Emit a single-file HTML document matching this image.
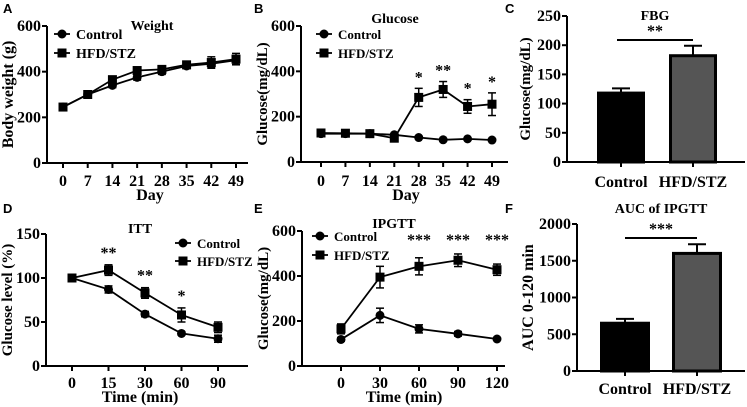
<!DOCTYPE html>
<html><head><meta charset="utf-8"><style>
body{margin:0;background:#fff}
svg{display:block;font-family:"Liberation Serif",serif;font-weight:bold}
.pl{font-family:"Liberation Sans",sans-serif;font-weight:bold;font-size:13px}
</style></head><body>
<svg id="s" width="747" height="407" viewBox="0 0 747 407"></svg>
<script>
// Panel A data
const aDays=["0","7","14","21","28","35","42","49"];
const aCtrl=[245,300,340,375,400,425,435,450];
const aCtrlErr=[8,8,10,12,12,12,15,18];
const aHfd=[245,300,365,405,410,430,440,455];
const aHfdErr=[8,8,12,12,12,15,25,25];
const aTicks=[0,200,400,600];
// Panel B data
const bDays=["0","7","14","21","28","35","42","49"];
const bCtrl=[125,125,125,120,108,98,102,97];
const bCtrlErr=[5,5,5,5,5,5,5,5];
const bHfd=[128,127,125,105,285,320,245,255];
const bHfdErr=[8,8,8,10,40,35,30,50];
const bStars=["","","","","*","**","*","*"];
const bTicks=[0,200,400,600];
// Panel C data
const cCats=["Control","HFD/STZ"];
const cVals=[118,182];
const cErr=[8,17];
const cTicks=[0,50,100,150,200,250];
// Panel D data
const dCats=["0","15","30","60","90"];
const dCtrl=[100,87,59,37,31];
const dCtrlErr=[2,4,3,2,4];
const dHfd=[100,109,83,58,44];
const dHfdErr=[2,6,6,8,6];
const dStars=["","**","**","*",""];
const dTicks=[0,50,100,150];
// Panel E data
const eCats=["0","30","60","90","120"];
const eCtrl=[118,225,165,143,120];
const eCtrlErr=[8,32,18,10,6];
const eHfd=[165,395,443,470,428];
const eHfdErr=[22,48,38,28,25];
const eStars=["","","***","***","***"];
const eTicks=[0,200,400,600];
// Panel F data
const fCats=["Control","HFD/STZ"];
const fVals=[650,1600];
const fErr=[60,125];
const fTicks=[0,500,1000,1500,2000];

const S=document.getElementById('s');const NS="http://www.w3.org/2000/svg";
function mk(t,a,name,txt){const e=document.createElementNS(NS,t);for(const k in a)e.setAttribute(k,a[k]);


if(txt!==undefined)e.textContent=txt;S.appendChild(e);return e;}
function ln(x1,y1,x2,y2,n,w){return mk('line',{x1,y1,x2,y2,stroke:'#000','stroke-width':w||2},n);}
function tx(x,y,t,n,sz,anc,extra){const a={x,y,'font-size':sz||14,'text-anchor':anc||'middle'};Object.assign(a,extra||{});return mk('text',a,n,t);}

function yAxis(ax,y0,y1,max,ticks,xEnd,title,tsz,off){
 const Y=v=>y0-(v/max)*(y0-y1);
 ln(ax,Y(0)+1,ax,Y(max),'y-axis');ln(ax-1,Y(0),xEnd,Y(0),'x-axis');
 ticks.forEach(t=>{ln(ax-5,Y(t),ax,Y(t),'y-tick');tx(ax-6,Y(t)+5,String(t),'y-tick-label',16,'end');});
 const cy=(y0+y1)/2;const tx0=ax-(off||34);tx(tx0,cy,title,'y-axis-title',tsz||15,'middle',{transform:`rotate(-90 ${tx0} ${cy})`});
 return Y;}
function marker(x,y,sq,n){if(sq)mk('rect',{x:x-4.5,y:y-4.5,width:9,height:9,fill:'#000'},n);else mk('circle',{cx:x,cy:y,r:4.5,fill:'#000'},n);}
function series(X,Y,vals,errs,sq,n){
 let d='';vals.forEach((v,i)=>{d+=(i?'L':'M')+X(i)+' '+Y(v);});
 mk('path',{d,fill:'none',stroke:'#000','stroke-width':1.8},n+'-line');
 vals.forEach((v,i)=>{const e=errs[i];ln(X(i),Y(v+e),X(i),Y(v-e),n+'-error',1.5);ln(X(i)-4,Y(v+e),X(i)+4,Y(v+e),n+'-error-cap',1.5);ln(X(i)-4,Y(v-e),X(i)+4,Y(v-e),n+'-error-cap',1.5);marker(X(i),Y(v),sq,n+'-point');});}
function legend(x,y,gap,sz){[['Control',0],['HFD/STZ',1]].forEach(([t,sq],i)=>{const yy=y+i*gap;ln(x-8,yy,x+8,yy,'legend-line',1.8);marker(x,yy,sq,'legend-marker');tx(x+14,yy+5,t,'legend-entry',sz||14,'start');});}
function xticks(X,cats,y0,ly){cats.forEach((c,i)=>{ln(X(i),y0,X(i),y0+5,'x-tick');tx(X(i),ly,c,'x-tick-label',16);});}

// A
tx(3,13,'A','panel-label-a',13,'start',{class:'pl'});
{const Y=yAxis(47,163,26,600,aTicks,248,'Body weight (g)',16,34);const X=i=>63+i*(236-63)/(aDays.length-1);
xticks(X,aDays,163,186);tx(150,200,'Day','x-axis-title',16);tx(152,30,'Weight','chart-title',14);
series(X,Y,aCtrl,aCtrlErr,0,'control');series(X,Y,aHfd,aHfdErr,1,'hfd');legend(62,34,19,14);}
// B
tx(254,13,'B','panel-label-b',13,'start',{class:'pl'});
{const Y=yAxis(301,162,26,600,bTicks,508,'Glucose(mg/dL)',15,34);const X=i=>321+i*(492-321)/(bDays.length-1);
xticks(X,bDays,162,186);tx(406,200,'Day','x-axis-title',16);tx(395,23,'Glucose','chart-title',14);
series(X,Y,bCtrl,bCtrlErr,0,'control');series(X,Y,bHfd,bHfdErr,1,'hfd');legend(324,34,19,13);
bStars.forEach((s,i)=>{if(s)tx(X(i),Y(bHfd[i]+bHfdErr[i])-6,s,'significance-star',16);});}
// C
tx(505,13,'C','panel-label-c',13,'start',{class:'pl'});
{const Y=yAxis(567,162,16,250,cTicks,745,'Glucose(mg/dL)',15,37);const xs=[621,693];
cCats.forEach((c,i)=>{const top=Y(cVals[i]+cErr[i]);ln(xs[i],top,xs[i],Y(cVals[i]),'error-bar',2);ln(xs[i]-9,top,xs[i]+9,top,'error-cap',2);
mk('rect',{x:xs[i]-22.5,y:Y(cVals[i]),width:45,height:Y(0)-Y(cVals[i]),fill:i?'#555':'#000',stroke:'#000','stroke-width':3},'bar-'+(i?'hfd':'control'));
ln(xs[i],Y(0),xs[i],Y(0)+5,'x-tick');tx(xs[i],187,c,'x-tick-label',16);});
tx(655,20,'FBG','chart-title',14);tx(655,36,'**','significance-star',16);ln(617,40,693,40,'significance-line',2);}
// D
tx(3,213,'D','panel-label-d',13,'start',{class:'pl'});
{const Y=yAxis(46,366,234,150,dTicks,248,'Glucose level (%)',15,34);const X=i=>72+i*36.5;
xticks(X,dCats,366,388);tx(140,402,'Time (min)','x-axis-title',16);tx(140,233,'ITT','chart-title',14);
series(X,Y,dCtrl,dCtrlErr,0,'control');series(X,Y,dHfd,dHfdErr,1,'hfd');legend(183,243,18,13);
dStars.forEach((s,i)=>{if(s)tx(X(i),Y(dHfd[i]+dHfdErr[i])-7,s,'significance-star',16);});}
// E
tx(254,213,'E','panel-label-e',13,'start',{class:'pl'});
{const Y=yAxis(302,366,231,600,eTicks,505,'Glucose(mg/dL)',15,34);const X=i=>341+i*39;
xticks(X,eCats,366,388);tx(404,402,'Time (min)','x-axis-title',16);tx(394,228,'IPGTT','chart-title',14);
series(X,Y,eCtrl,eCtrlErr,0,'control');series(X,Y,eHfd,eHfdErr,1,'hfd');legend(320,236,19,13);
eStars.forEach((s,i)=>{if(s)tx(X(i),245,s,'significance-star',16);});}
// F
tx(505,213,'F','panel-label-f',13,'start',{class:'pl'});
{const Y=yAxis(577,371,224,2000,fTicks,745,'AUC 0-120 min',16,44);const xs=[625,697];
fCats.forEach((c,i)=>{const top=Y(fVals[i]+fErr[i]);ln(xs[i],top,xs[i],Y(fVals[i]),'error-bar',2);ln(xs[i]-9,top,xs[i]+9,top,'error-cap',2);
mk('rect',{x:xs[i]-23.5,y:Y(fVals[i]),width:47,height:Y(0)-Y(fVals[i]),fill:i?'#555':'#000',stroke:'#000','stroke-width':3},'bar-'+(i?'hfd':'control'));
ln(xs[i],Y(0),xs[i],Y(0)+5,'x-tick');tx(xs[i],394,c,'x-tick-label',16);});
tx(661,213,'AUC of IPGTT','chart-title',14);tx(661,234,'***','significance-star',16);ln(625,238,697,238,'significance-line',2);}
</script>
</body></html>
